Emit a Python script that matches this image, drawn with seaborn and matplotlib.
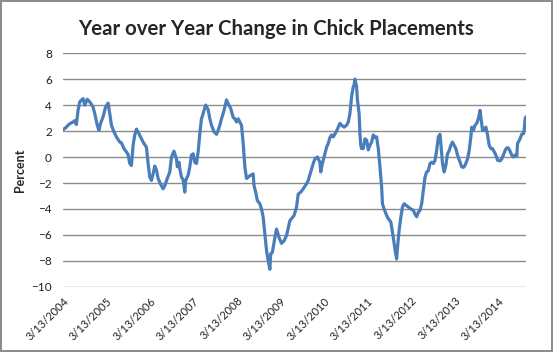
import pandas as pd
import matplotlib
matplotlib.use("Agg")
import matplotlib.pyplot as plt
import seaborn as sns

# weeks since 3/13/2004 and year-over-year change (%)
weeks = [0, 4, 6, 9, 12, 14, 16, 18, 20, 24, 26, 29, 32, 36, 38, 41, 43, 45, 48, 51,
         54, 56, 58, 61, 64, 68, 70, 73, 76, 78, 80, 82, 84, 86, 88, 91, 94, 96, 100, 102,
         104, 106, 108, 110, 112, 114, 117, 120, 122, 125, 128, 130, 133, 136, 137, 139, 140, 142, 144, 146,
         147, 150, 152, 154, 156, 158, 160, 162, 164, 166, 168, 171, 174, 176, 178, 181, 184, 186, 188, 190,
         192, 194, 196, 198, 201, 204, 206, 208, 210, 212, 214, 216, 218, 220, 222, 225, 228, 229, 231, 233,
         236, 238, 240, 242, 244, 246, 248, 249, 251, 254, 256, 259, 262, 265, 268, 272, 274, 277, 280, 282,
         285, 288, 292, 294, 297, 300, 302, 305, 308, 309, 311, 314, 316, 318, 320, 322, 324, 328, 330, 332,
         334, 337, 340, 342, 344, 346, 348, 349, 350, 352, 353, 355, 356, 357, 358, 360, 362, 364, 366, 368,
         370, 372, 374, 376, 378, 380, 382, 383, 385, 388, 390, 393, 396, 398, 400, 401, 403, 405, 407, 409,
         412, 414, 417, 420, 422, 424, 426, 428, 430, 432, 434, 436, 438, 440, 442, 444, 446, 448, 450, 452,
         453, 455, 457, 459, 461, 463, 465, 467, 469, 471, 473, 476, 478, 480, 482, 485, 487, 489, 490, 492,
         494, 496, 498, 500, 501, 503, 505, 507, 509, 511, 513, 515, 517, 519, 521, 524, 526, 528, 530, 532,
         534, 536, 538, 540, 542, 544, 545, 548, 550, 552, 553, 554, 555]
pct = [2.1, 2.3, 2.45, 2.6, 2.7, 2.8, 2.5, 3.6, 4.25, 4.5, 4.0, 4.45, 4.25, 3.85, 3.35, 2.45, 2.05, 2.6, 3.1, 3.85,
       4.15, 3.35, 2.45, 1.95, 1.55, 1.15, 1.1, 0.65, 0.4, 0.2, -0.5, -0.65, 0.9, 1.7, 2.15, 1.8, 1.4, 1.15, 0.75, -0.5,
       -1.55, -1.8, -1.3, -0.7, -1.0, -1.65, -2.1, -2.45, -2.2, -1.65, -1.15, 0.0, 0.45, -0.15, -0.75, -0.4, -0.9, -1.55, -1.75, -2.7,
       -1.8, -1.4, -0.75, 0.15, 0.25, -0.4, -0.5, 0.4, 1.8, 2.95, 3.35, 4.0, 3.65, 2.95, 2.45, 1.95, 1.75, 2.05, 2.45, 2.95,
       3.35, 3.85, 4.4, 4.1, 3.75, 3.05, 2.95, 2.7, 2.95, 2.7, 2.45, 1.05, -0.75, -1.65, -1.55, -1.4, -1.3, -2.2, -2.7, -3.35,
       -3.6, -4.0, -4.65, -5.9, -7.2, -8.0, -8.65, -7.45, -7.35, -6.2, -5.55, -6.2, -6.65, -6.45, -6.05, -4.9, -4.75, -4.5, -3.85, -2.85,
       -2.7, -2.45, -2.05, -1.8, -1.15, -0.5, -0.15, 0.0, -0.4, -1.15, -0.5, 0.25, 0.75, 1.05, 1.5, 1.7, 1.55, 2.0, 2.3, 2.6,
       2.45, 2.3, 2.45, 2.7, 3.35, 4.65, 5.4, 5.55, 6.0, 5.4, 4.4, 3.35, 1.8, 0.9, 0.65, 0.65, 1.4, 1.3, 0.55, 0.9,
       1.15, 1.7, 1.5, 1.55, 0.65, -0.75, -2.3, -3.6, -4.0, -4.5, -4.75, -5.0, -6.2, -7.1, -7.85, -7.0, -5.65, -4.65, -3.85, -3.6,
       -3.75, -3.85, -4.0, -4.1, -4.4, -4.6, -4.25, -4.1, -3.6, -2.6, -1.55, -1.15, -1.05, -0.5, -0.4, -0.5, -0.25, 0.5, 1.55, 1.75,
       1.05, -0.5, -1.15, -0.65, 0.25, 0.5, 0.9, 1.15, 0.9, 0.65, 0.15, -0.4, -0.75, -0.8, -0.65, -0.15, 0.5, 1.55, 2.3, 2.05,
       2.45, 2.6, 2.95, 3.6, 3.1, 2.05, 2.1, 2.3, 1.7, 0.9, 0.65, 0.65, 0.4, 0.15, -0.25, -0.3, -0.15, 0.15, 0.5, 0.7,
       0.7, 0.45, 0.15, 0.0, 0.15, 0.05, 1.05, 1.4, 1.75, 1.8, 2.05, 2.95, 3.1]
tick_years = list(range(2004, 2015))

start = pd.Timestamp("2004-03-13")
df = pd.DataFrame({"date": start + pd.to_timedelta([w * 7 for w in weeks], unit="D"),
                   "pct": pct})

sns.set_style("white")
plt.rcParams['font.family'] = ['Lato', 'DejaVu Sans']

fig = plt.figure(figsize=(5.53, 3.52), dpi=100)
ax = fig.add_axes([0.114, 0.185, 0.837, 0.664])
sns.lineplot(data=df, x="date", y="pct", ax=ax, color="#4A7EBB", linewidth=2.3)

ax.set_ylim(-10, 8)
ax.set_yticks(range(-10, 9, 2))
ax.set_xlim(df["date"].iloc[0], df["date"].iloc[-1])
ticks = [pd.Timestamp(year=y, month=3, day=13) for y in tick_years]
ax.set_xticks(ticks)
ax.set_xticklabels(["3/13/%d" % y for y in tick_years], rotation=45, ha="right",
                   rotation_mode="anchor", fontsize=8, color="#202020")
ax.tick_params(axis="y", labelsize=8.5, length=0, pad=8, labelcolor="#202020")
ax.tick_params(axis="x", length=0, pad=6)
ax.grid(axis="y", color="#8c8c8c", linewidth=1.0)
ax.set_axisbelow(True)
for s in ax.spines.values():
    s.set_visible(False)

ax.set_xlabel("")
ax.set_ylabel("Percent", fontsize=9, fontweight="bold", labelpad=4)
fig.suptitle("Year over Year Change in Chick Placements", fontsize=14.7,
             fontweight="bold", y=0.945)

fig.patch.set_edgecolor("#8c8c8c")
fig.patch.set_linewidth(1.5)

fig.savefig("out.png", dpi=100, edgecolor=fig.get_edgecolor())
